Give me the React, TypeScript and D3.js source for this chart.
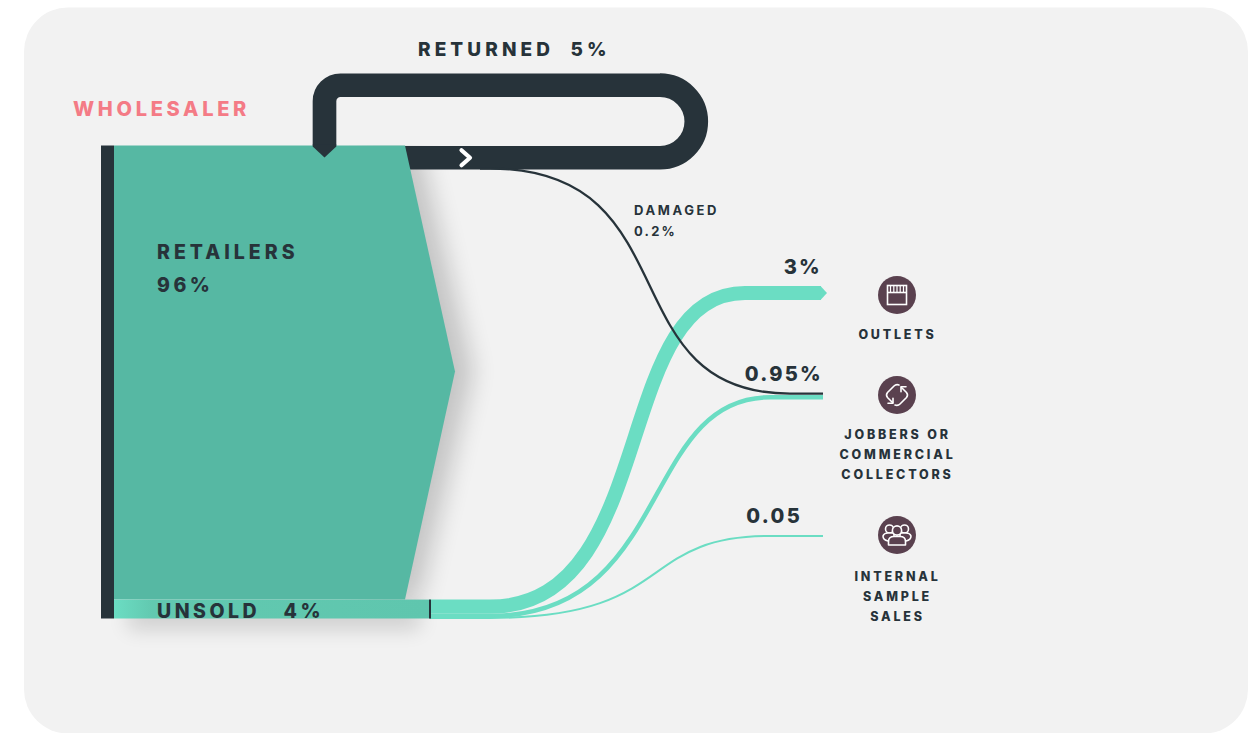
import React from "react";
import * as d3 from "d3";

// Share of wholesaler stock, in percent
const stageNames = ["RETAILERS", "UNSOLD"];
const stageValues = [96, 4];
const returnedName = "RETURNED";
const returnedValue = 5;
const damagedName = "DAMAGED";
const damagedValue = 0.2;
const destinationLabels = ["3%", "0.95%", "0.05"];
const destinationValues = [3, 0.95, 0.05];
const destinationNames = [
  ["OUTLETS"],
  ["JOBBERS OR", "COMMERCIAL", "COLLECTORS"],
  ["INTERNAL", "SAMPLE", "SALES"],
];

const INK = "#27333a";
const TEAL = "#56b8a3";
const MINT = "#6bddc3";
const PLUM = "#5a414f";
const PINK = "#f47b86";
const FONT = "Inter, 'Noto Sans', sans-serif";

const W = 1258;
const H = 733;
const barTop = 145.5;
const barBottom = 618.5;
const barLeft = 114;
const bodyRight = 405;
const arrowTip = 455;
const unsoldRight = 430;
const linkStart = 490;

// Placement of the destination rows
const targetCenter = [293, 397.3, 536];
// Where each flow's curve ends, its two horizontal bezier handles, and where the flat run stops
const flowCurveEnd = [745, 770, 770];
const flowHandles = [
  [660, 610],
  [673, 640],
  [678, 635],
];
const flowRunEnd = [821, 823, 823];
const iconCenter = [295, 395, 535];
const valueBaseline = [274, 381, 523];
const valueRight = [822, 823, 802];
const nameBaseline = [339, 439, 581];

// Horizontal run, S-curve between two levels, then another horizontal run
const flowPath = (
  x0: number,
  curveX0: number,
  y0: number,
  c1: number,
  c2: number,
  curveX1: number,
  y1: number,
  x1: number
) => {
  const p = d3.path();
  p.moveTo(x0, y0);
  p.lineTo(curveX0, y0);
  p.bezierCurveTo(c1, y0, c2, y1, curveX1, y1);
  p.lineTo(x1, y1);
  return p.toString();
};

const App = () => {
  // 100% of the stock spans the height of the wholesaler bar
  const y = d3.scaleLinear().domain([0, 100]).range([barTop, barBottom]);
  const thickness = (v: number) => y(v) - y(0);
  const visible = (v: number) => Math.max(thickness(v), 2);

  const splitY = y(stageValues[0]);
  const arrowMid = (barTop + splitY) / 2 - 1;

  const retailerShape = d3.line()([
    [barLeft, barTop],
    [bodyRight, barTop],
    [arrowTip, arrowMid],
    [bodyRight, splitY],
    [barLeft, splitY],
  ]) + "Z";
  const shadowShape = d3.line()([
    [bodyRight - 40, barTop],
    [bodyRight + 14, barTop],
    [arrowTip + 18, arrowMid],
    [bodyRight + 14, splitY],
    [bodyRight - 40, splitY],
  ]) + "Z";

  // Returned loop: a single wide stroke leaving the bar's lower band and re-entering at the stem
  const returnedWidth = thickness(returnedValue);
  const loopBottom = barTop + 0.4 + returnedWidth / 2;
  const loopTop = 85.2;
  const loopRadius = (loopBottom - loopTop) / 2;
  const stemX = 324.5;
  const loopRight = 660;
  const corner = 16;
  const loop = d3.path();
  loop.moveTo(bodyRight - 10, loopBottom);
  loop.lineTo(loopRight, loopBottom);
  loop.arc(loopRight, loopTop + loopRadius, loopRadius, Math.PI / 2, -Math.PI / 2, true);
  loop.lineTo(stemX + corner, loopTop);
  loop.arcTo(stemX, loopTop, stemX, loopTop + corner, corner);
  loop.lineTo(stemX, barTop);
  const half = returnedWidth / 2;
  const stemTip = d3.line()([
    [stemX - half, barTop - 1],
    [stemX + half, barTop - 1],
    [stemX + half, barTop + 1],
    [stemX, barTop + 12],
    [stemX - half, barTop + 1],
  ]) + "Z";

  // Destination flows stack up inside the unsold band, then fan out
  const stackTops = d3.cumsum([0, ...destinationValues]);
  const flows = destinationValues.map((v, i) => {
    const w = visible(v);
    const sy = Math.min(splitY + thickness(stackTops[i]) + thickness(v) / 2, barBottom - w / 2 + 0.4);
    const [c1, c2] = flowHandles[i];
    return {
      w,
      d: flowPath(unsoldRight, linkStart, sy, c1, c2, flowCurveEnd[i], targetCenter[i], flowRunEnd[i]),
      endX: flowRunEnd[i],
      cy: targetCenter[i],
    };
  });

  // The damaged share peels off the lower edge of the returned band
  const damagedWidth = visible(damagedValue) + 0.3;
  const damagedTop = loopBottom + half - 1;
  const damagedPath = flowPath(480, 490, damagedTop, 692, 608, 790, 393.6, 823);

  const labelStyle = { fontFamily: FONT, fontWeight: 800, fill: INK } as const;
  const smallStyle = { fontFamily: FONT, fontWeight: 700, fill: INK } as const;
  const [outletFlow] = flows;

  return (
    <svg
      width={W}
      height={H}
      viewBox={`0 0 ${W} ${H}`}
      style={{ position: "absolute", left: 0, top: 0, display: "block" }}
    >
      <defs>
        <filter id="softShadow" x="-60%" y="-20%" width="220%" height="140%">
          <feGaussianBlur stdDeviation="12" />
        </filter>
        <filter id="softShadowLow" x="-20%" y="-200%" width="140%" height="500%">
          <feGaussianBlur stdDeviation="10" />
        </filter>
        <clipPath id="belowBarTop">
          <rect x={barLeft} y={barTop} width={W - barLeft} height={barBottom - barTop} />
        </clipPath>
        <linearGradient id="unsoldFill" gradientUnits="userSpaceOnUse" x1={barLeft} x2={unsoldRight} y1="0" y2="0">
          <stop offset="0" stopColor={MINT} />
          <stop offset="0.12" stopColor="#62c9b0" />
          <stop offset="1" stopColor="#5fc6ae" />
        </linearGradient>
      </defs>

      <rect x={24} y={7.5} width={1224} height={726} rx={44} fill="#f2f2f2" />

      <g clipPath="url(#belowBarTop)">
        <path d={shadowShape} fill="#000" opacity={0.19} filter="url(#softShadow)" />
      </g>
      <rect
        x={barLeft + 14}
        y={splitY + 4}
        width={unsoldRight - barLeft - 24}
        height={26}
        fill="#000"
        opacity={0.14}
        filter="url(#softShadowLow)"
      />

      <path d={loop.toString()} fill="none" stroke={INK} strokeWidth={returnedWidth} />

      {flows.map((f, i) => (
        <path key={i} d={f.d} fill="none" stroke={MINT} strokeWidth={f.w} />
      ))}
      <path
        d={`M${outletFlow.endX - 0.5},${outletFlow.cy - outletFlow.w / 2}L${outletFlow.endX + 6},${outletFlow.cy}L${outletFlow.endX - 0.5},${outletFlow.cy + outletFlow.w / 2}Z`}
        fill={MINT}
      />

      <path d={damagedPath} fill="none" stroke={INK} strokeWidth={damagedWidth} />

      <path d={retailerShape} fill={TEAL} />
      <rect x={barLeft} y={splitY} width={unsoldRight - barLeft} height={barBottom - splitY} fill="url(#unsoldFill)" />
      <rect x={101} y={barTop} width={barLeft - 101} height={barBottom - barTop} fill={INK} />
      <rect x={unsoldRight - 1} y={splitY} width={2} height={barBottom - splitY} fill={INK} />

      <path d={stemTip} fill={INK} />

      <path
        d={`M461.5,${loopBottom - 7.5}L470,${loopBottom}L461.5,${loopBottom + 7.5}`}
        fill="none"
        stroke="#fff"
        strokeWidth={4.2}
        strokeLinecap="round"
        strokeLinejoin="round"
      />

      <text x={73} y={116} fontFamily={FONT} fontWeight={800} fontSize={20} letterSpacing={3.7} fill={PINK}>
        WHOLESALER
      </text>
      <text x={418} y={56} {...labelStyle} fontSize={19} letterSpacing={4.1} xmlSpace="preserve">
        {`${returnedName}  ${returnedValue}%`}
      </text>
      <text x={157} y={259} {...labelStyle} fontSize={19.5} letterSpacing={4}>
        {stageNames[0]}
      </text>
      <text x={157} y={292} {...labelStyle} fontSize={19.5} letterSpacing={3.5}>
        {stageValues[0]}%
      </text>
      <text x={157} y={618} {...labelStyle} fontSize={19.5} letterSpacing={3.5} xmlSpace="preserve">
        {`${stageNames[1]}   ${stageValues[1]}%`}
      </text>
      <text x={634} y={215} {...smallStyle} fontSize={13} letterSpacing={2.6}>
        {damagedName}
      </text>
      <text x={634} y={236} {...smallStyle} fontSize={13} letterSpacing={2.2}>
        {damagedValue}%
      </text>

      {destinationLabels.map((label, i) => (
        <text key={label} x={valueRight[i]} y={valueBaseline[i]} {...labelStyle} fontSize={20} letterSpacing={2.3} textAnchor="end">
          {label}
        </text>
      ))}

      {destinationNames.map((lines, i) =>
        lines.map((line, j) => (
          <text
            key={line}
            x={897.5}
            y={nameBaseline[i] + j * 20}
            {...labelStyle}
            fontSize={12.5}
            letterSpacing={2.8}
            textAnchor="middle"
          >
            {line}
          </text>
        ))
      )}

      {iconCenter.map((cy) => (
        <circle key={cy} cx={897} cy={cy} r={19} fill={PLUM} />
      ))}

      {/* Shop shutter */}
      <g transform={`translate(897,${iconCenter[0]})`} fill="none" stroke="#fff">
        <rect x={-9.5} y={-9.5} width={19} height={19} strokeWidth={1.6} />
        <path d="M-9.5,-2.5H9.5" strokeWidth={1.6} />
        <path d="M-6.5,-9V-3M-3.2,-9V-3M0,-9V-3M3.2,-9V-3M6.5,-9V-3" strokeWidth={1.2} />
      </g>

      {/* Exchange arrows */}
      <g
        transform={`translate(897,${iconCenter[1]})`}
        fill="none"
        stroke="#fff"
        strokeWidth={1.6}
        strokeLinecap="round"
        strokeLinejoin="round"
      >
        <path d="M2,-10Q-1,-11 -3,-9L-9.5,-2.5Q-11.5,0 -9.5,2.5L-4.5,7.5" />
        <path d="M-9,8.2H-4V3.2" />
        <path d="M-2,10Q1,11 3,9L9.5,2.5Q11.5,0 9.5,-2.5L4.5,-7.5" />
        <path d="M9,-8.2H4V-3.2" />
      </g>

      {/* Group of people */}
      <g
        transform={`translate(897,${iconCenter[2]})`}
        fill={PLUM}
        stroke="#fff"
        strokeWidth={1.6}
        strokeLinejoin="round"
      >
        <circle cx={-7.5} cy={-6} r={4} />
        <circle cx={7.5} cy={-6} r={4} />
        <path d="M-9,6Q-14,5 -14,1Q-13,-2 -9,-2H-3V6Z" />
        <path d="M9,6Q14,5 14,1Q13,-2 9,-2H3V6Z" />
        <circle cx={0} cy={-4.5} r={4.6} />
        <path d="M-8.5,10V6.5Q-8.5,1.5 -3,1.5H3Q8.5,1.5 8.5,6.5V10Z" />
      </g>
    </svg>
  );
};

export default App;
